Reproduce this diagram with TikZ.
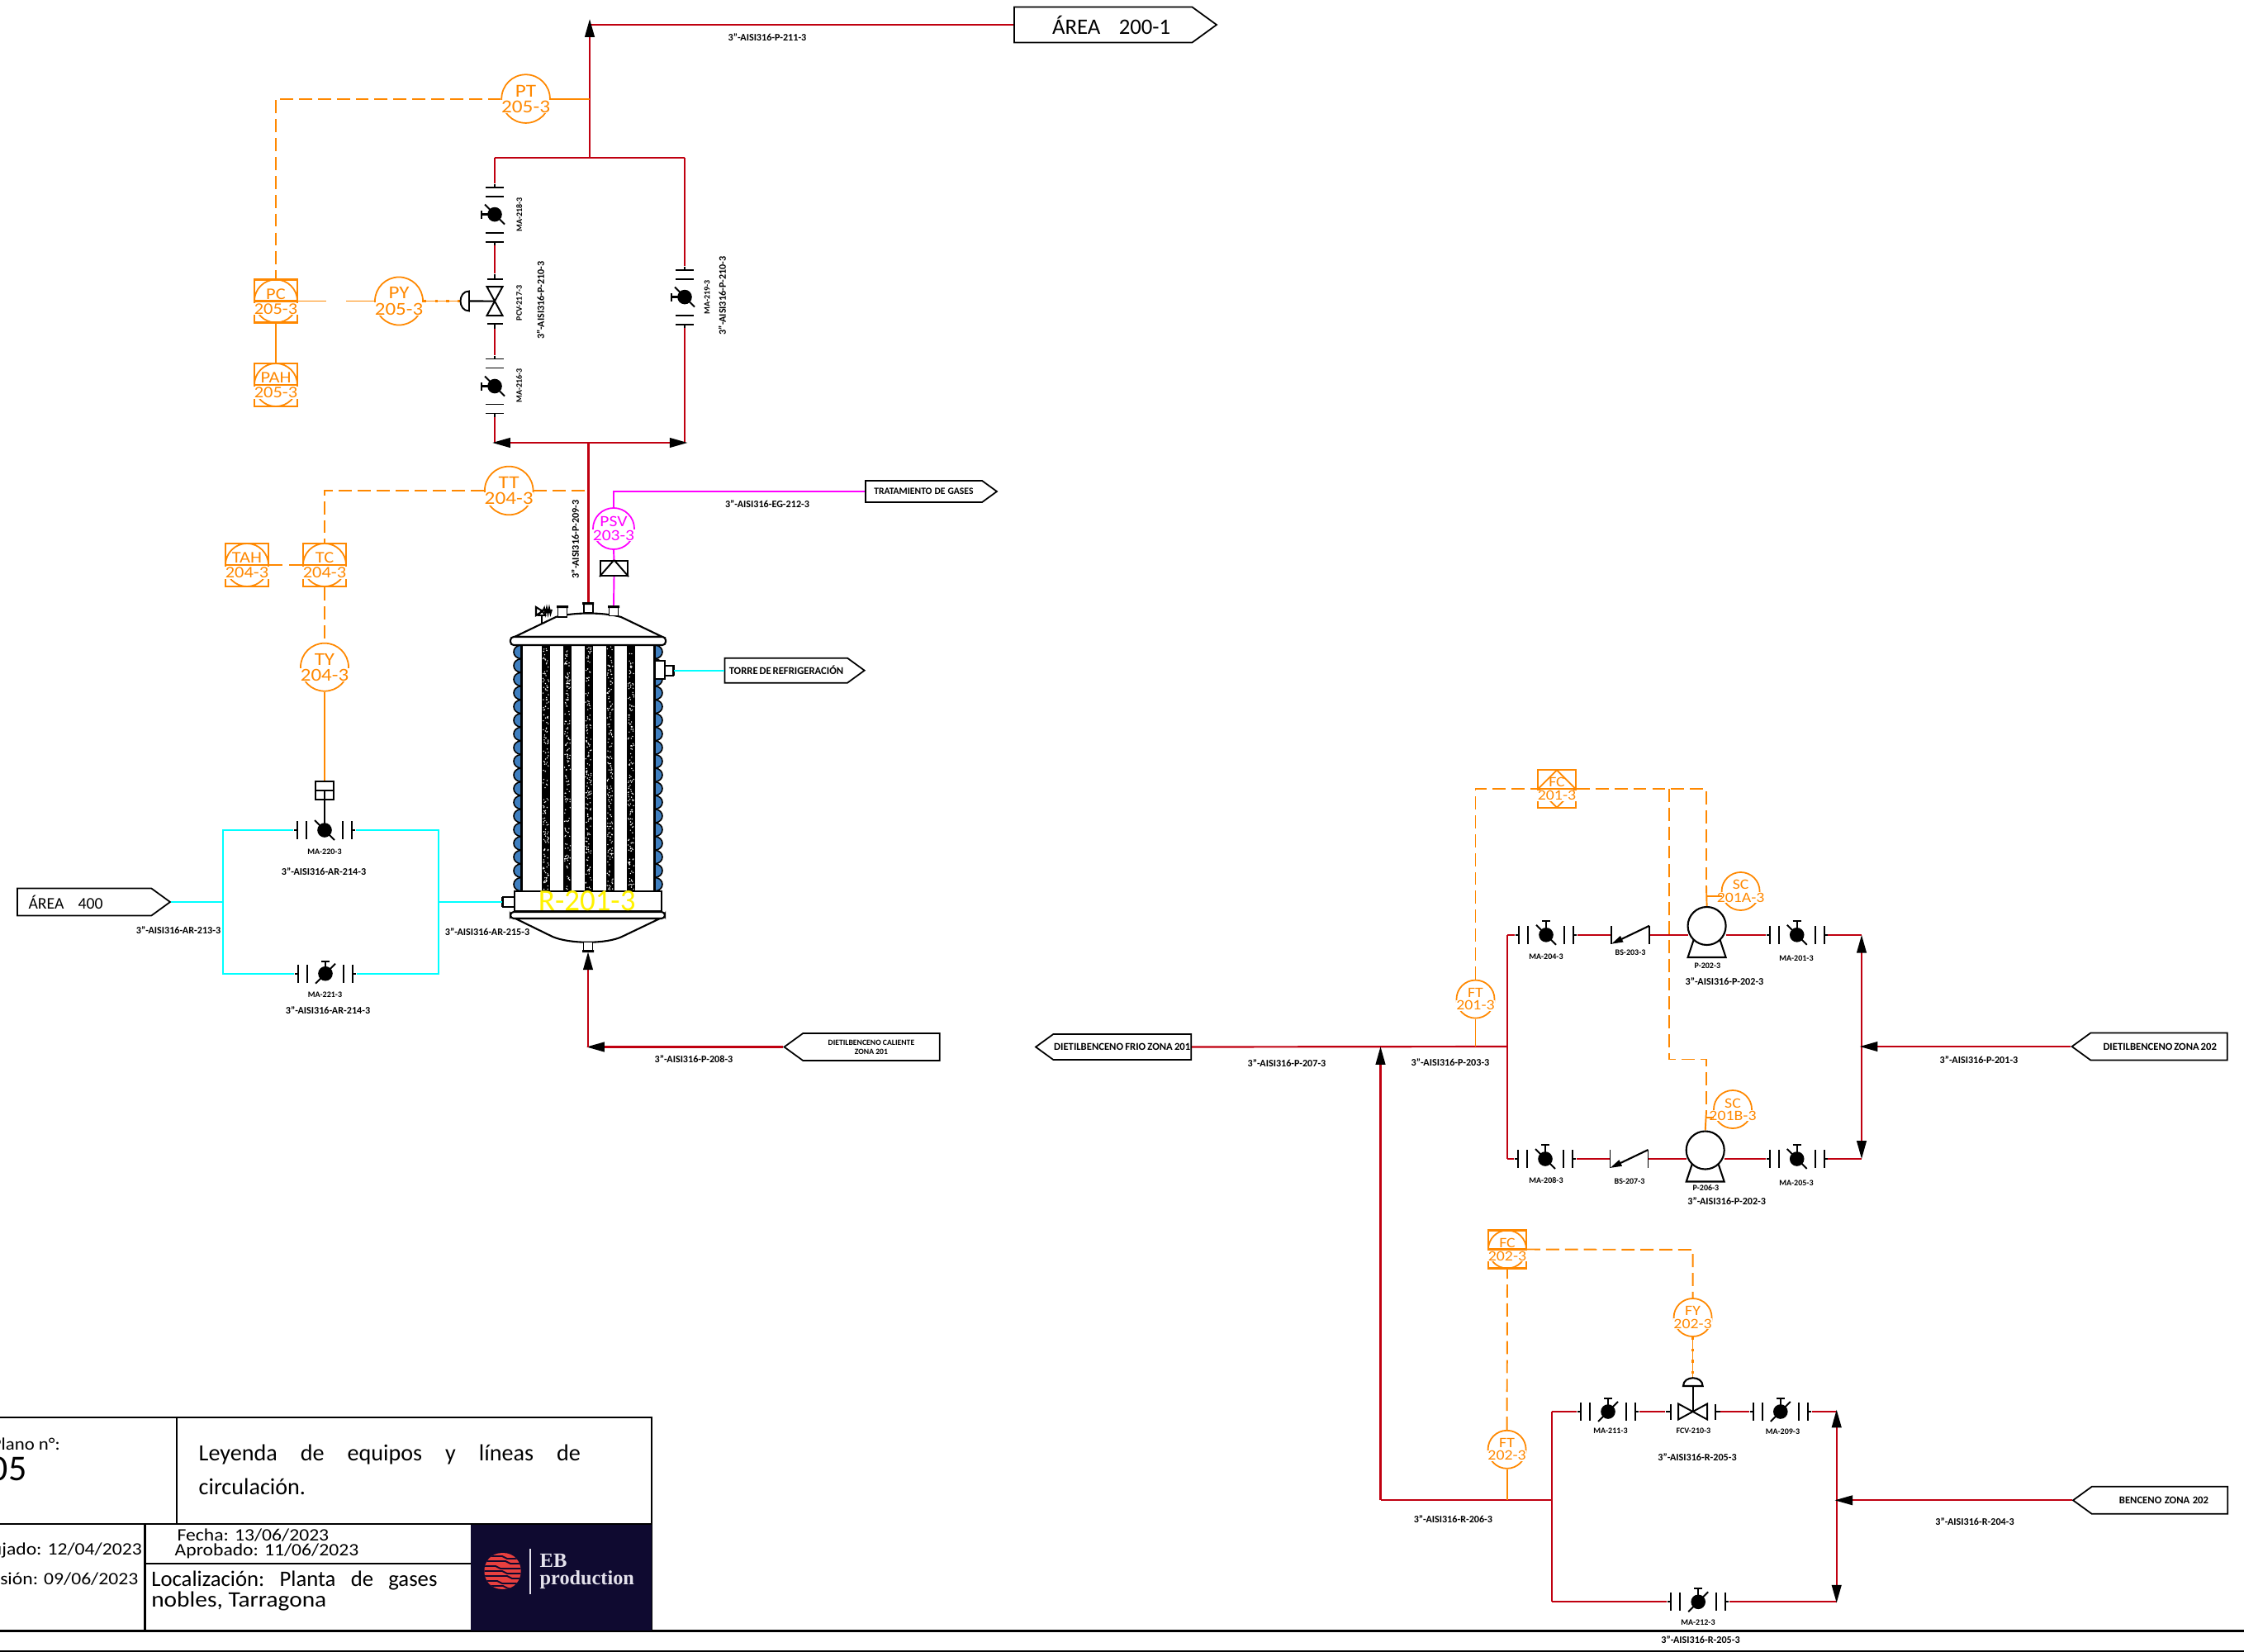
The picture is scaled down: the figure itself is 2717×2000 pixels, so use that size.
\documentclass[tikz,border=0pt]{standalone}
\usepackage{fontspec}
\setmainfont{Carlito}
\newfontfamily\logofont{Liberation Serif}
\usetikzlibrary{calc,arrows.meta,shapes.geometric,shapes.symbols}

\definecolor{instor}{HTML}{FF8800}
\definecolor{pipered}{HTML}{C00010}
\definecolor{wateraq}{HTML}{00FFFF}
\definecolor{relief}{HTML}{FF00FF}
\definecolor{jacket}{HTML}{3F7FC0}
\definecolor{logonavy}{HTML}{0F0A30}
\definecolor{logored}{HTML}{E8403F}
\definecolor{logotext}{HTML}{E4E2EC}

\tikzset{
	pipe/.style={draw=pipered,line width=.62pt},
	cool/.style={draw=wateraq,line width=.62pt},
	reliefline/.style={draw=relief,line width=.55pt},
	steel/.style={draw=black,line width=.55pt},
	wall/.style={draw=black,line width=.6pt},
	solidsig/.style={draw=instor,line width=.55pt},
	dashsig/.style={draw=instor,line width=.55pt,dash pattern=on 4.5pt off 2pt},
	dotsig/.style={draw=instor,line width=.35pt,postaction={draw,line width=.8pt,dash pattern=on .9pt off 3pt}},
	>={Triangle[length=6.2pt,width=3.3pt,color=black]},
	bubnode/.style={circle,draw=#1,line width=.5pt,inner sep=0pt,fill=white},
	bubnum/.style={text=#1,fill=white,inner sep=.2pt},
	bubtag/.style={text=#1,inner sep=0pt},
	panelbox/.style={rectangle,draw=#1,line width=.6pt,inner sep=0pt,fill=white},
	valvebody/.style={rectangle,inner sep=0pt,minimum height=.22cm},
	tagbox/.style={signal,draw=black,line width=.5pt,fill=white,inner sep=0pt,signal from=nowhere,signal pointer angle=72,font=\bfseries\fontsize{3.6}{3.9}\selectfont,align=center},
	linetag/.style={inner sep=0pt,font=\bfseries\fontsize{3.45}{3.8}\selectfont},
	itemtag/.style={inner sep=0pt,font=\bfseries\fontsize{2.85}{3.2}\selectfont},
	blocktext/.style={inner sep=0pt,font=\fontsize{7.6}{9}\selectfont\frenchspacing},
	datetext/.style={inner sep=0pt,font=\fontsize{6}{7}\selectfont},
}

% name, position, radius in px, tag, number, colour
\newcommand{\bubble}[6]{%
	\pgfmathsetmacro{\bubsize}{#3*0.215}
	\node[bubnode=#6,minimum size=#3*0.02cm] (#1) at (#2) {};
	\node[bubnum=#6,font=\fontsize{\bubsize}{\bubsize}\selectfont] (#1n) at ($(#1.center)+(0,#3*0.33)$) {\scalebox{1.14}[1]{#5}};
	\node[bubtag=#6,font=\fontsize{\bubsize}{\bubsize}\selectfont] (#1t) at ($(#1.center)-(0,#3*0.33)$) {\scalebox{1.14}[1]{#4}};
}
% the same inside a square, with circle or diamond as last argument
\newcommand{\panel}[7]{%
	\pgfmathsetmacro{\bubsize}{#3*0.215}
	\node[panelbox=#6,minimum size=#3*0.02cm] (#1) at (#2) {};
	\node[#7,draw=#6,line width=.5pt,inner sep=0pt,minimum width=#3*0.02cm,minimum height=#3*0.02cm] (#1c) at (#2) {};
	\draw[draw=#6,line width=.6pt] (#1.west) -- (#1.east);
	\node[bubnum=#6,font=\fontsize{\bubsize}{\bubsize}\selectfont] (#1n) at ($(#1.center)+(0,#3*0.36)$) {\scalebox{1.14}[1]{#5}};
	\node[bubtag=#6,font=\fontsize{\bubsize}{\bubsize}\selectfont] (#1t) at ($(#1.center)-(0,#3*0.33)$) {\scalebox{1.14}[1]{#4}};
}
% name, position, rotation, slash direction, stem length
\newcommand{\ballvalve}[5]{%
	\node[valvebody,minimum width=.74cm,rotate=#3] (#1) at (#2) {};
	\begin{scope}[shift={(#2)},rotate=#3]
		\draw[steel] (-37,0) -- (-33,0) (-33,-11) -- (-33,11) (-22,-11) -- (-22,11);
		\draw[steel] (37,0) -- (33,0) (33,-11) -- (33,11) (22,-11) -- (22,11);
		\fill (0,0) circle (.088cm);
		\draw[steel] ({-12*#4},-12) -- ({12*#4},12);
		\draw[steel,line width=.65pt] (0,0) -- (0,-#5);
		\ifnum#5>0 \draw[steel,line width=.65pt] (-5,-#5) -- (5,-#5); \fi
	\end{scope}
}
% name, position, rotation
\newcommand{\ctrlvalve}[3]{%
	\node[valvebody,minimum width=.66cm,rotate=#3] (#1) at (#2) {};
	\begin{scope}[shift={(#2)},rotate=#3]
		\draw[steel] (-33,0) -- (-27,0) (-27,-9.5) -- (-27,9.5);
		\draw[steel] (33,0) -- (27,0) (27,-9.5) -- (27,9.5);
		\draw[steel] (-17.5,-9.5) -- (17.5,9.5) -- (17.5,-9.5) -- (-17.5,9.5) -- cycle;
	\end{scope}
}
% name, position
\newcommand{\checkvalve}[2]{%
	\node[valvebody,minimum width=.46cm] (#1) at (#2) {};
	\begin{scope}[shift={(#2)}]
		\draw[steel] (-23,-11) -- (-23,11) (23,-11) -- (23,11);
		\draw[steel,line width=.6pt,-{Triangle[length=4pt,width=2.2pt]}] (23,-11) -- (-23,11);
	\end{scope}
}
% name, centre
\newcommand{\pumpbody}[2]{%
	\node[circle,draw=black,line width=.6pt,inner sep=0pt,minimum size=.46cm,fill=white] (#1) at (#2) {};
	\draw[wall] ($(#1.center)+(-16,17)$) -- ($(#1.center)+(-23,38)$) -- ($(#1.center)+(23,38)$) -- ($(#1.center)+(16,17)$);
}

\begin{document}
\begin{tikzpicture}[x=0.01cm,y=-0.01cm]
	\useasboundingbox (0,0) rectangle (2717,2000);

	% area 200 outlet and by-pass
	\node[tagbox,signal to=east,anchor=west,minimum width=2.45cm,minimum height=.43cm,font=\fontsize{7.6}{9}\selectfont] (area200) at (1227,30) {\hspace*{.2cm}\makebox[1.43cm][s]{ÁREA 200-1}};
	\coordinate (topend) at (714,30);
	\coordinate (topbar) at (714,191);
	\coordinate (barl) at (599,191);
	\coordinate (barr) at (829,191);
	\coordinate (lowl) at (599,536);
	\coordinate (lowr) at (829,536);
	\coordinate (lowm) at (712.5,536);
	\draw[pipe] (area200.west) -- (topend);
	\draw[pipe,->] (topbar) -- (714,23);
	\draw[pipe] (barl) -- (barr);
	\node[linetag] (l211) at (929,45) {3"-AISI316-P-211-3};

	\ballvalve{ma218}{599,259.6}{90}{-1}{16}
	\ctrlvalve{pcv217}{599,364.6}{90}
	\ballvalve{ma216}{599,467.5}{90}{-1}{16}
	\ballvalve{ma219}{829,359.6}{90}{-1}{16}
	\draw[pipe] (barl) -- (ma218.east);
	\draw[pipe] (ma218.west) -- (pcv217.east);
	\draw[pipe] (pcv217.west) -- (ma216.east);
	\draw[pipe] (ma216.west) -- (lowl);
	\draw[pipe] (barr) -- (ma219.east);
	\draw[pipe] (ma219.west) -- (lowr);
	\draw[pipe,->] (lowm) -- (596,536);
	\draw[pipe,->] (lowm) -- (832.6,536);
	\node[itemtag,rotate=90] (t218) at (628.6,259.6) {MA-218-3};
	\node[itemtag,rotate=90] (t217) at (628.6,367) {PCV-217-3};
	\node[itemtag,rotate=90] (t216) at (628.6,467) {MA-216-3};
	\node[itemtag,rotate=90] (t219) at (856,360) {MA-219-3};
	\node[linetag,rotate=90] (l210a) at (654.5,363.6) {3"-AISI316-P-210-3};
	\node[linetag,rotate=90] (l210b) at (874.5,358) {3"-AISI316-P-210-3};
	\node[linetag,rotate=90] (l209) at (696.6,653) {3"-AISI316-P-209-3};

	% pressure loop
	\bubble{pt}{636.6,119.6}{29.3}{PT}{205-3}{instor}
	\panel{pc}{334,364.5}{26}{PC}{205-3}{instor}{circle}
	\panel{pah}{334,466}{26}{PAH}{205-3}{instor}{circle}
	\bubble{py}{483,364.5}{29}{PY}{205-3}{instor}
	\coordinate (ptcorner) at (334,119.6);
	\coordinate (pytapl) at (395,364.5);
	\coordinate (pytapr) at (419,364.5);
	\coordinate (pcvact) at (558,364.5);
	\draw[solidsig] (pt.east) -- (714,119.6);
	\draw[dashsig] (pt.west) -- (ptcorner) -- (pc.north);
	\draw[solidsig] (pc.east) -- (pytapl);
	\draw[solidsig] (pytapr) -- (py.west);
	\draw[solidsig] (pc.south) -- (pah.north);
	\draw[dotsig] (py.east) -- (pcvact);
	\draw[steel,line width=.6pt] (pcv217.center) -- (568,364.5);
	\draw[steel,fill=white] (568,352.5) .. controls (554,352.5) and (554,376.5) .. (568,376.5) -- cycle;

	% reactor
	\begin{scope}
		\pgfmathsetseed{7}
		\foreach \n in {0,...,17}{
			\pgfmathsetmacro{\yy}{781+16.55*\n}
			\filldraw[fill=jacket,draw=black,line width=.45pt] (631,\yy) .. controls (619,\yy+1) and (619,\yy+15.5) .. (631,\yy+16.55) -- cycle;
			\filldraw[fill=jacket,draw=black,line width=.45pt] (793,\yy) .. controls (805,\yy+1) and (805,\yy+15.5) .. (793,\yy+16.55) -- cycle;
		}
		\draw[wall,line width=.8pt,fill=white] (632,781) rectangle (792,1079);
		\foreach \tx in {661,687,712.5,738.5,764}{
			\fill[black] (\tx-5,781) rectangle (\tx+5,1079);
			\foreach \k in {1,...,170}{
				\pgfmathsetmacro{\dx}{rnd*7-3.5}
				\pgfmathsetmacro{\dy}{783+rnd*294}
				\fill[white] (\tx+\dx,\dy) circle (.008cm);
			}
		}
	\end{scope}
	\draw[wall,fill=white] (623,771) -- (673,747) .. controls (695,741) and (730,741) .. (752,747) -- (802,771) -- cycle;
	\draw[wall,fill=white,rounded corners=.04cm] (618,771) rectangle (806,781);
	\node[draw=black,line width=.6pt,fill=white,inner sep=0pt,minimum width=1.78cm,minimum height=.24cm,text=yellow,font=\fontsize{10.5}{12}\selectfont] (r201) at (712,1091) {\makebox[1.2cm][s]{R-201-3}};
	\draw[wall,fill=white,rounded corners=.04cm] (618,1104) rectangle (805,1112);
	\draw[wall,fill=white] (624,1112) -- (669,1134) .. controls (690,1143) and (734,1143) .. (753,1134) -- (799,1112) -- cycle;
	% nozzles
	\node[draw=black,line width=.5pt,fill=white,inner sep=0pt,minimum width=.11cm,minimum height=.12cm] (nzc) at (712.5,736) {};
	\node[draw=black,line width=.5pt,fill=white,inner sep=0pt,minimum width=.11cm,minimum height=.12cm] (nzl) at (681,741) {};
	\node[draw=black,line width=.5pt,fill=white,inner sep=0pt,minimum width=.11cm,minimum height=.11cm] (nzr) at (743,740) {};
	\node[draw=black,line width=.5pt,fill=white,inner sep=0pt,minimum width=.11cm,minimum height=.11cm] (nzb) at (712,1146) {};
	\fill (705,729) rectangle (719,732) (674,733) rectangle (688,736) (736,733) rectangle (750,736) (705,1150) rectangle (719,1153);
	\draw[wall] (656,755) -- (656,745);
	\draw[wall,fill=white] (649,735) -- (657,740) -- (649,745) -- cycle;
	\draw[steel] (652,745) -- (656,739) -- (660,745) -- cycle;
	\draw[steel] (657,740) -- (659,736) -- (660.5,743) -- (662,736) -- (663.5,743) -- (665,736) -- (666.5,743) -- (668,738);
	% side connections
	\node[draw=black,line width=.5pt,fill=white,inner sep=0pt,minimum width=.12cm,minimum height=.22cm] (cwbox) at (799,811) {};
	\node[draw=black,line width=.5pt,fill=white,inner sep=0pt,minimum width=.1cm,minimum height=.12cm] (cwout) at (810,811.7) {};
	\draw[line width=.8pt] (816,805) -- (816,818);
	\node[draw=black,line width=.5pt,fill=white,inner sep=0pt,minimum width=.14cm,minimum height=.12cm] (cwin) at (616,1092) {};
	\draw[line width=.8pt] (608,1086) -- (608,1098);

	\draw[pipe] (lowm) -- (nzc.north);

	% temperature loop
	\bubble{tt}{616.2,594}{29.3}{TT}{204-3}{instor}
	\panel{tc}{393,684}{26}{TC}{204-3}{instor}{circle}
	\panel{tah}{299,684}{26}{TAH}{204-3}{instor}{circle}
	\bubble{ty}{393,807.7}{29}{TY}{204-3}{instor}
	\coordinate (tttap) at (712.5,594);
	\coordinate (ttcorner) at (393,594);
	\coordinate (tctapl) at (342,684);
	\coordinate (tctapr) at (350,684);
	\draw[dashsig] (tt.east) -- (tttap);
	\draw[dashsig] (tt.west) -- (ttcorner) -- (tc.north);
	\draw[dashsig] (tc.south) -- (ty.north);
	\draw[solidsig] (tah.east) -- (tctapl);
	\draw[solidsig] (tctapr) -- (tc.west);

	% cooling water
	\ballvalve{ma220}{393,1005}{0}{1}{0}
	\ballvalve{ma221}{394,1178.7}{0}{-1}{15}
	\node[draw=black,line width=.55pt,inner sep=0pt,minimum width=.22cm,minimum height=.22cm] (act220) at (393,956.7) {};
	\draw[steel] (act220.west) -- (act220.east);
	\draw[steel,line width=.6pt] (act220.center) -- (ma220.center);
	\draw[dotsig] (ty.south) -- (act220.north);
	\node[tagbox,signal to=east,anchor=west,minimum width=1.85cm,minimum height=.33cm,font=\fontsize{5.6}{7}\selectfont] (area400) at (20,1092) {\makebox[.9cm][s]{ÁREA 400}\hspace*{.45cm}};
	\node[tagbox,signal to=east,anchor=west,minimum width=1.69cm,minimum height=.3cm] (torre) at (876.7,811.7) {\makebox[1.38cm][s]{TORRE DE REFRIGERACIÓN}};
	\coordinate (cwll) at (270,1092);
	\coordinate (cwlt) at (270,1005);
	\coordinate (cwlb) at (270,1178.7);
	\coordinate (cwrl) at (531,1092);
	\coordinate (cwrt) at (531,1005);
	\coordinate (cwrb) at (531,1178.7);
	\draw[cool] (area400.east) -- (cwll);
	\draw[cool] (ma220.west) -- (cwlt) -- (cwlb) -- (ma221.west);
	\draw[cool] (ma220.east) -- (cwrt) -- (cwrb) -- (ma221.east);
	\draw[cool] (cwrl) -- (608,1092);
	\draw[cool] (816,811.7) -- (torre.west);
	\node[itemtag] (t220) at (393,1031.7) {MA-220-3};
	\node[itemtag] (t221) at (393.5,1204) {MA-221-3};
	\node[linetag] (l214a) at (392,1055) {3"-AISI316-AR-214-3};
	\node[linetag] (l214b) at (397,1222.7) {3"-AISI316-AR-214-3};
	\node[linetag] (l213) at (216,1126) {3"-AISI316-AR-213-3};
	\node[linetag] (l215) at (590,1128) {3"-AISI316-AR-215-3};

	% hot oil inlet
	\node[tagbox,signal to=west,anchor=east,minimum width=1.88cm,minimum height=.33cm,font=\bfseries\fontsize{2.75}{3.2}\selectfont] (caliente) at (1138.5,1267.5) {DIETILBENCENO CALIENTE\\ZONA 201};
	\coordinate (hotc) at (712,1267.5);
	\draw[pipe,->] (caliente.west) -- (710,1267.5);
	\draw[pipe,->] (hotc) -- (nzb.south);
	\node[linetag] (l208) at (840,1282) {3"-AISI316-P-208-3};

	% relief line
	\bubble{psv}{743,640}{25}{PSV}{203-3}{relief}
	\node[tagbox,signal to=east,anchor=west,minimum width=1.59cm,minimum height=.26cm,font=\bfseries\fontsize{3.3}{3.9}\selectfont] (gases) at (1047,595) {\makebox[1.2cm][s]{TRATAMIENTO DE GASES}};
	\node[draw=black,line width=.6pt,inner sep=0pt,minimum width=.33cm,minimum height=.18cm] (rupt) at (743.5,688) {};
	\draw[steel,line width=.55pt] (rupt.south west) -- (rupt.north) -- (rupt.south east);
	\coordinate (psvcorner) at (743,595);
	\draw[reliefline] (gases.west) -- (psvcorner) -- (psv.north);
	\draw[reliefline] (psv.south) -- (rupt.north);
	\draw[reliefline] (rupt.south) -- (743,733);
	\node[linetag] (l212) at (929,610) {3"-AISI316-EG-212-3};

	% pumps and feed
	\node[tagbox,signal to=west,anchor=east,minimum width=1.88cm,minimum height=.31cm] (frio) at (1443,1267.5) {\makebox[1.65cm][s]{DIETILBENCENO FRIO ZONA 201}};
	\node[tagbox,signal to=west,anchor=east,minimum width=1.88cm,minimum height=.33cm] (zona202) at (2697.6,1267) {\makebox[1.35cm][s]{DIETILBENCENO ZONA 202}};
	\node[tagbox,signal to=west,anchor=east,minimum width=1.87cm,minimum height=.33cm] (benceno) at (2698,1816.3) {\hspace*{.1cm}\makebox[1.08cm][s]{BENCENO ZONA 202}};

	\ballvalve{ma204}{1872,1131.8}{0}{1}{17}
	\checkvalve{bs203}{1974,1131.8}
	\pumpbody{p202}{2066.6,1121}
	\ballvalve{ma201}{2175.7,1131.8}{0}{1}{17}
	\ballvalve{ma208}{1871,1403}{0}{1}{17}
	\checkvalve{bs207}{1972.5,1403}
	\pumpbody{p206}{2064.7,1392.5}
	\ballvalve{ma205}{2175.7,1403}{0}{1}{17}
	\coordinate (suctop) at (1825,1131.8);
	\coordinate (sucmid) at (1825,1267);
	\coordinate (sucbot) at (1825,1403);
	\coordinate (dismid) at (2254,1267);
	\coordinate (distop) at (2254,1131.8);
	\coordinate (disbot) at (2254,1403);
	\coordinate (riser) at (1671.5,1267);
	\draw[pipe] (frio.east) -- (sucmid);
	\draw[pipe] (suctop) -- (sucbot);
	\draw[pipe] (suctop) -- (ma204.west);
	\draw[pipe] (ma204.east) -- (bs203.west);
	\draw[pipe] (bs203.east) -- (2043.6,1131.8);
	\draw[pipe] (2089.6,1131.8) -- (ma201.west);
	\draw[pipe] (ma201.east) -- (distop);
	\draw[pipe] (sucbot) -- (ma208.west);
	\draw[pipe] (ma208.east) -- (bs207.west);
	\draw[pipe] (bs207.east) -- (2041.7,1403);
	\draw[pipe] (2087.7,1403) -- (ma205.west);
	\draw[pipe] (ma205.east) -- (disbot);
	\draw[pipe,->] (dismid) -- (distop);
	\draw[pipe,->] (dismid) -- (disbot);
	\draw[pipe,->] (zona202.west) -- (2251.6,1267);
	\node[itemtag] (t204) at (1872,1158) {MA-204-3};
	\node[itemtag] (t203) at (1974,1153.6) {BS-203-3};
	\node[itemtag] (t202) at (2067.4,1169) {P-202-3};
	\node[linetag] (l202a) at (2088,1188.6) {3"-AISI316-P-202-3};
	\node[itemtag] (t201) at (2175,1160) {MA-201-3};
	\node[linetag] (l203) at (1756,1286) {3"-AISI316-P-203-3};
	\node[itemtag] (t208) at (1872,1428.7) {MA-208-3};
	\node[itemtag] (t207) at (1973,1430) {BS-207-3};
	\node[itemtag] (t206) at (2065.5,1438) {P-206-3};
	\node[linetag] (l202b) at (2090.7,1454) {3"-AISI316-P-202-3};
	\node[itemtag] (t205) at (2175,1432) {MA-205-3};
	\node[linetag] (l207) at (1558,1287) {3"-AISI316-P-207-3};
	\node[linetag] (l201) at (2396,1282.7) {3"-AISI316-P-201-3};

	% flow loop of the pumps
	\panel{fc201}{1885,955}{23}{FC}{201-3}{instor}{diamond}
	\bubble{ft201}{1786.5,1209.6}{23}{FT}{201-3}{instor}
	\bubble{sca}{2107.6,1079}{23}{SC}{201A-3}{instor}
	\bubble{scb}{2098,1343}{23}{SC}{201B-3}{instor}
	\coordinate (fcleft) at (1786.5,955);
	\coordinate (fcright) at (2066,955);
	\coordinate (fcmid) at (2020.7,955);
	\coordinate (scbel) at (2020.7,1282.5);
	\coordinate (scber) at (2066,1282.5);
	\coordinate (scatap) at (2066,1084.6);
	\coordinate (scbtap) at (2066,1353);
	\draw[solidsig] (ft201.south) -- (1786.5,1267);
	\draw[dashsig] (ft201.north) -- (fcleft) -- (fc201.west);
	\draw[dashsig] (fc201.east) -- (fcright) -- (2066,1073);
	\draw[dashsig] (fcmid) -- (scbel) -- (scber) -- (2066,1345);
	\draw[solidsig] (2066,1073) -- (p202.north);
	\draw[solidsig] (scatap) -- (2085,1084.6);
	\draw[solidsig] (2066,1345) -- (p206.north);
	\draw[solidsig] (scbtap) -- (2075,1353);

	% benzene
	\ctrlvalve{fcv210}{2049.6,1709}{0}
	\ballvalve{ma211}{1947,1709}{0}{-1}{16}
	\ballvalve{ma209}{2155.8,1709}{0}{-1}{16}
	\ballvalve{ma212}{2056.2,1939.3}{0}{-1}{16}
	\coordinate (bzmid) at (1878.6,1816.3);
	\coordinate (bztop) at (1878.6,1709);
	\coordinate (bzbot) at (1878.6,1939.3);
	\coordinate (brmid) at (2223.7,1816.3);
	\coordinate (brtop) at (2223.7,1709);
	\coordinate (brbot) at (2223.7,1939.3);
	\coordinate (risbot) at (1671.5,1816.3);
	\draw[pipe] (bztop) -- (bzbot);
	\draw[pipe] (bztop) -- (ma211.west);
	\draw[pipe] (ma211.east) -- (fcv210.west);
	\draw[pipe] (fcv210.east) -- (ma209.west);
	\draw[pipe] (ma209.east) -- (brtop);
	\draw[pipe] (bzbot) -- (ma212.west);
	\draw[pipe] (ma212.east) -- (brbot);
	\draw[pipe,->] (brmid) -- (2223.7,1706.5);
	\draw[pipe,->] (brmid) -- (2223.7,1940.6);
	\draw[pipe,->] (benceno.west) -- (2221.4,1816.3);
	\draw[pipe] (bzmid) -- (risbot);
	\draw[pipe,->] (risbot) -- (riser);
	\node[itemtag] (t211) at (1950,1732.5) {MA-211-3};
	\node[itemtag] (t210) at (2050.4,1732) {FCV-210-3};
	\node[itemtag] (t209) at (2158.5,1733) {MA-209-3};
	\node[linetag] (l205a) at (2055,1764) {3"-AISI316-R-205-3};
	\node[linetag] (l206) at (1759.4,1839.6) {3"-AISI316-R-206-3};
	\node[itemtag] (t212) at (2056,1964) {MA-212-3};
	\node[linetag] (l205b) at (2059,1985) {3"-AISI316-R-205-3};
	\node[linetag] (l204) at (2391,1842) {3"-AISI316-R-204-3};

	\panel{fc202}{1825,1512.5}{23}{FC}{202-3}{instor}{circle}
	\bubble{fy202}{2049.6,1595}{23}{FY}{202-3}{instor}
	\bubble{ft202}{1824.6,1754.8}{23}{FT}{202-3}{instor}
	\coordinate (fccorner) at (2049.6,1513);
	\coordinate (fcvact) at (2049.6,1668.6);
	\draw[solidsig] (ft202.south) -- (1824.6,1816.3);
	\draw[dashsig] (ft202.north) -- (fc202.south);
	\draw[dashsig] (fc202.east) -- (fccorner) -- (fy202.north);
	\draw[dotsig] (fy202.south) -- (fcvact);
	\draw[steel,line width=.6pt] (fcv210.center) -- (2049.6,1678);
	\draw[steel,line width=.6pt,fill=white] (2038,1678) .. controls (2038,1665) and (2061.6,1665) .. (2061.6,1678) -- cycle;

	% title block
	\draw[line width=.7pt] (0,1716) -- (789,1716) -- (789,1974);
	\draw[line width=.7pt] (214,1716) -- (214,1845);
	\draw[line width=.7pt] (0,1845) -- (789,1845);
	\draw[line width=.7pt] (175.5,1845) -- (175.5,1974);
	\draw[line width=.7pt] (175.5,1893) -- (570,1893);
	\draw[line width=.7pt] (0,1974.4) -- (2717,1974.4);
	\draw[line width=.7pt] (0,1999.3) -- (2717,1999.3);
	\node[datetext,anchor=east] (plano) at (73.5,1748) {\scalebox{1.08}[1]{Plano n°:}};
	\node[blocktext,anchor=east,font=\fontsize{12.5}{14}\selectfont] (plnum) at (33,1778) {05};
	\node[blocktext,anchor=west,font=\fontsize{8}{9}\selectfont] (ley1) at (240,1761) {\makebox[4.62cm][s]{Leyenda de equipos y líneas de}};
	\node[blocktext,anchor=west,font=\fontsize{8}{9}\selectfont] (ley2) at (240,1800) {circulación.};
	\node[datetext,anchor=west] (fecha) at (214,1859) {\scalebox{1.12}[1]{Fecha: 13/06/2023}};
	\node[datetext,anchor=west] (aprob) at (211,1877.5) {\scalebox{1.12}[1]{Aprobado: 11/06/2023}};
	\node[datetext,anchor=east] (dibuj) at (172.5,1877) {\scalebox{1.12}[1]{Dibujado: 12/04/2023}};
	\node[datetext,anchor=east] (revis) at (168,1911.7) {\scalebox{1.12}[1]{Revisión: 09/06/2023}};
	\node[blocktext,anchor=west] (loc1) at (182.6,1914) {\makebox[3.46cm][s]{\frenchspacing Localización: Planta de gases}};
	\node[blocktext,anchor=west] (loc2) at (182.6,1939) {\scalebox{1.1}[1]{nobles, Tarragona}};

	% logo
	\fill[logonavy] (570,1846) rectangle (789,1974);
	\begin{scope}
		\clip (608.7,1880) .. controls (638,1880) and (638,1924) .. (608.7,1924) .. controls (579,1924) and (579,1880) .. (608.7,1880) -- cycle;
		\fill[logored] (585,1878) rectangle (632,1926);
		\foreach \ly/\lk in {1884/2,1890/6,1896/-6,1902/2,1908/8,1914/-4,1920/3}{
			\draw[logonavy,line width=.55pt] (585,\ly) -- (606+\lk,\ly) -- (612+\lk,\ly+3) -- (632,\ly+3);
		}
	\end{scope}
	\draw[logotext,line width=.3pt] (642,1875) -- (642,1930);
	\node[anchor=west,inner sep=0pt,text=logotext,font=\logofont\bfseries\fontsize{7}{8}\selectfont] (logoa) at (653,1889) {EB};
	\node[anchor=west,inner sep=0pt,text=logotext,font=\logofont\bfseries\fontsize{6.9}{8}\selectfont] (logob) at (653,1913) {production};
\end{tikzpicture}
\end{document}
